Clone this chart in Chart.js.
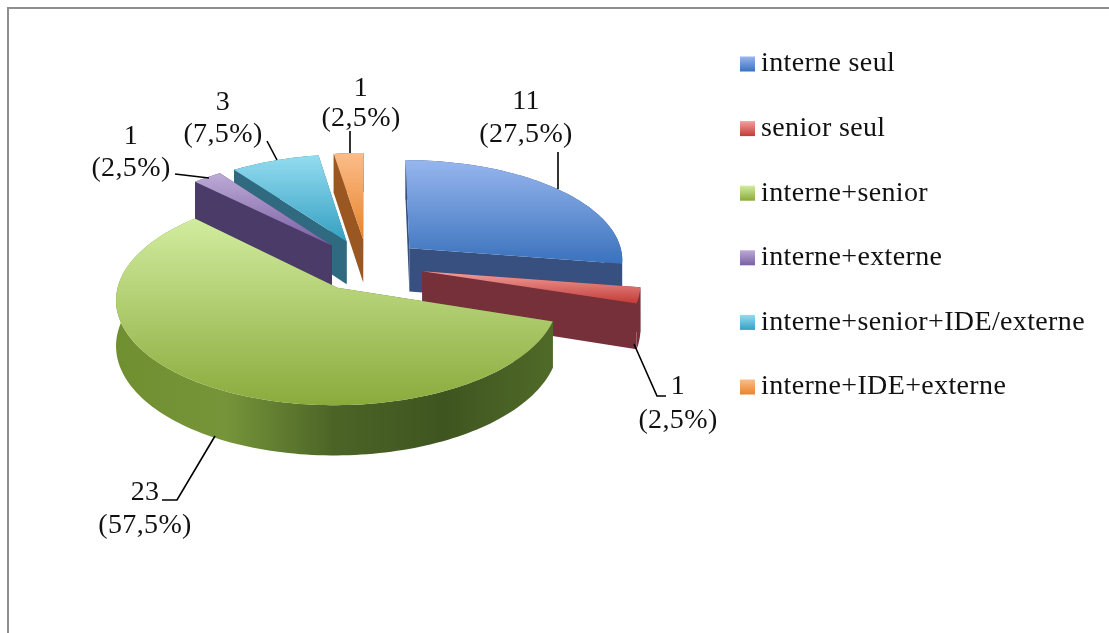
<!DOCTYPE html>
<html><head><meta charset="utf-8">
<style>
html,body{margin:0;padding:0;background:#fff;overflow:hidden}
#wrap{position:absolute;left:0;top:0;width:1109px;height:633px}
#frame{position:absolute;left:7px;top:7px;width:1110px;height:640px;border:2px solid #8e8e8e;box-sizing:border-box}
canvas{position:absolute;left:0;top:0}
</style>
<script src="https://cdn.jsdelivr.net/npm/chart.js@4"></script>
</head><body>
<div id="wrap"><div id="frame"></div><canvas id="c" width="1109" height="633"></canvas></div>
<script>
const categories=["interne seul","senior seul","interne+senior","interne+externe","interne+senior+IDE/externe","interne+IDE+externe"];
const counts=[11,1,23,1,3,1];
const percents=["27,5%","2,5%","57,5%","2,5%","7,5%","2,5%"];

const topLight=["#97b6ee","#f2a09e","#d2ec9f","#bcaad6","#93dcf0","#fbbd8a"];
const topDark=["#3a72bd","#c23b36","#8aab3c","#7a5fa3","#35a0c2","#e8842c"];
const sideColor=["#37507f","#76303a","#55722b","#4a3b68","#2f6a80","#9a5722"];
const greenWall=["#6f8f30","#76953a","#4b6426","#3f5520","#4f6a28"];

const labelPos=[[526,102,526,135],[678,387,678,421],[145,493,145,526],[131,137,131,169],[223,103,223,135],[361,89,361,119]];
const leaders=[[[558,152],[558,189]],[[634,344],[657,396],[666,396]],[[215,436],[177,500],[162,500]],[[175,174],[209,178]],[[267,141],[277,160]],[[350,131],[350,153]]];
const legendTop=64, legendStep=64.6, legendBoxX=740, legendBoxSize=15, legendTextX=761;

const VY=0.467, PERSP=0.102, THICK=44;
const FONT='28px "Liberation Serif"', SPACING='0.36px';

const pie3d={
  id:'pie3d',
  beforeDatasetDraw(chart){
    const ctx=chart.ctx, meta=chart.getDatasetMeta(0);
    const slices=meta.data.map((a,i)=>{
      const p=a.getProps(['x','y','startAngle','endAngle','outerRadius'],true);
      const off=a.options.offset, mid=(p.startAngle+p.endAngle)/2;
      const ox=Math.cos(mid)*off, oy=Math.sin(mid)*off;
      const proj=(u,v,z)=>{const f=1/(1-PERSP*v/p.outerRadius);return [p.x+u*f, p.y+v*VY*f+z*f];};
      const rim=[];
      const n=Math.max(6,Math.round((p.endAngle-p.startAngle)*40));
      for(let k=0;k<=n;k++){const t=p.startAngle+(p.endAngle-p.startAngle)*k/n;rim.push([ox+Math.cos(t)*p.outerRadius,oy+Math.sin(t)*p.outerRadius]);}
      return {i,proj,rim,tip:[ox,oy],order:oy+Math.sin(mid)*p.outerRadius*0.3};
    }).sort((a,b)=>a.order-b.order);
    const path=pts=>{ctx.beginPath();pts.forEach((q,j)=>j?ctx.lineTo(q[0],q[1]):ctx.moveTo(q[0],q[1]));ctx.closePath();};
    ctx.save();
    ctx.filter='blur(0.6px)';
    for(const s of slices){
      const {proj,rim,tip,i}=s;
      const top=[tip,...rim].map(q=>proj(q[0],q[1],0));
      const low=[tip,...rim].map(q=>proj(q[0],q[1],THICK));
      ctx.fillStyle=sideColor[i];
      path([top[0],top[1],low[1],low[0]]);ctx.fill();
      path([top[0],top[top.length-1],low[low.length-1],low[0]]);ctx.fill();
      const xs=top.map(q=>q[0]), ys=top.map(q=>q[1]);
      const x0=Math.min(...xs),x1=Math.max(...xs),y0=Math.min(...ys),y1=Math.max(...ys);
      let wall=sideColor[i];
      if(i===2){wall=ctx.createLinearGradient(x0,0,x1,0);greenWall.forEach((c,k)=>wall.addColorStop(k/(greenWall.length-1),c));}
      ctx.fillStyle=wall;
      path([...top.slice(1),...low.slice(1).reverse()]);ctx.fill();
      const g=ctx.createLinearGradient(0,y0,0,y1);
      g.addColorStop(0,topLight[i]);g.addColorStop(1,topDark[i]);
      ctx.fillStyle=g;path(top);ctx.fill();
    }
    ctx.restore();
    return false;
  },
  afterDraw(chart){
    const ctx=chart.ctx;
    ctx.save();
    ctx.strokeStyle='#000';ctx.lineWidth=1.6;
    leaders.forEach(l=>{ctx.beginPath();l.forEach((q,j)=>j?ctx.lineTo(q[0],q[1]):ctx.moveTo(q[0],q[1]));ctx.stroke();});
    ctx.fillStyle='#111';ctx.font=FONT;ctx.letterSpacing=SPACING;ctx.textBaseline='middle';ctx.textAlign='center';
    counts.forEach((c,i)=>{const p=labelPos[i];ctx.fillText(String(c),p[0],p[1]);ctx.fillText('('+percents[i]+')',p[2],p[3]);});
    ctx.textAlign='left';
    chart.data.labels.forEach((t,i)=>{
      const y=legendTop+i*legendStep;
      const g=ctx.createLinearGradient(0,y-legendBoxSize/2,0,y+legendBoxSize/2);
      g.addColorStop(0,topLight[i]);g.addColorStop(1,topDark[i]);
      ctx.fillStyle=g;ctx.fillRect(legendBoxX,y-legendBoxSize/2,legendBoxSize,legendBoxSize);
      ctx.fillStyle='#111';ctx.fillText(t,legendTextX,y);
    });
    ctx.restore();
  }
};

new Chart(document.getElementById('c'),{
  type:'pie',
  data:{labels:categories,datasets:[{data:counts,backgroundColor:topDark,borderWidth:0,offset:56,radius:215}]},
  options:{responsive:false,animation:false,rotation:0,
    layout:{padding:{left:0,top:0,right:374,bottom:103}},
    plugins:{legend:{display:false},tooltip:{enabled:false}}},
  plugins:[pie3d]
});
</script>
</body></html>
